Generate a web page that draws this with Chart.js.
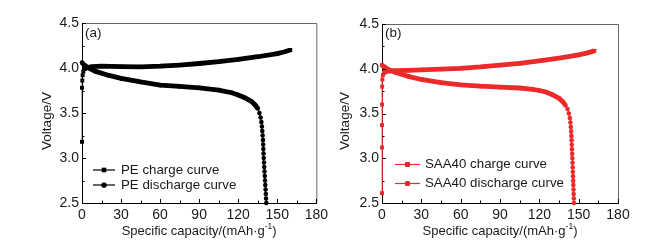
<!DOCTYPE html>
<html>
<head>
<meta charset="utf-8">
<script src="https://cdn.jsdelivr.net/npm/chart.js@4.4.0/dist/chart.umd.min.js"></script>
<style>
html, body { margin: 0; padding: 0; background: #fff; }
#wrap { position: relative; width: 664px; height: 252px; }
canvas { position: absolute; top: 0; }
</style>
</head>
<body>
<div id="wrap">
  <canvas id="chartA" width="332" height="252" style="left:0"></canvas>
  <canvas id="chartB" width="332" height="252" style="left:332px"></canvas>
</div>
<script>
// axis ticks
var xTicks = [0, 30, 60, 90, 120, 150, 180];
var yTicks = [2.5, 3.0, 3.5, 4.0, 4.5];
var xMinorTicks = [15, 45, 75, 105, 135, 165];
var yMinorTicks = [2.75, 3.25, 3.75, 4.25];

// (a) PE
var peChargeX = [0, 0, 0.2, 0.5, 1, 2, 4, 8, 15, 30, 45, 60, 75, 90, 105, 120, 135, 150, 155, 160];
var peChargeY = [3.18, 3.78, 3.86, 3.92, 3.96, 3.99, 4.005, 4.015, 4.02, 4.015, 4.013, 4.02, 4.033, 4.05, 4.07, 4.095, 4.125, 4.16, 4.178, 4.2];
var peDischargeX = [0, 2, 5, 10, 20, 30, 45, 60, 75, 90, 105, 115, 120, 125, 130, 133, 135,
  136.3, 137.2, 137.8, 138.2, 138.5, 138.75, 139.0, 139.15, 139.3, 139.45, 139.6, 139.8, 140.0,
  140.2, 140.4, 140.6, 140.8, 141.0, 141.2, 141.4, 141.6];
var peDischargeY = [4.06, 4.03, 4.0, 3.965, 3.92, 3.885, 3.845, 3.81, 3.795, 3.78, 3.755, 3.725, 3.7, 3.67, 3.63, 3.59, 3.55,
  3.5, 3.45, 3.4, 3.35, 3.3, 3.25, 3.2, 3.15, 3.1, 3.05, 3.0, 2.95, 2.9,
  2.85, 2.8, 2.75, 2.7, 2.65, 2.6, 2.55, 2.5];

// (b) SAA40
var saaChargeX = [0, 0, 0, 0.05, 0.1, 0.3, 0.7, 1.5, 3, 6, 10, 20, 30, 45, 60, 75, 90, 105, 120, 135, 150, 156, 162];
var saaChargeY = [2.61, 3.12, 3.37, 3.6, 3.8, 3.88, 3.93, 3.955, 3.97, 3.975, 3.978, 3.982, 3.988, 3.995, 4.005, 4.02, 4.04, 4.06, 4.088, 4.12, 4.155, 4.175, 4.2];
var saaDischargeX = [0, 2, 5, 10, 20, 30, 45, 60, 75, 90, 105, 115, 120, 125, 130, 135, 138, 140, 141.5, 142.5,
  143.3, 143.7, 144.0, 144.25, 144.45, 144.6, 144.75, 144.9, 145.05, 145.2,
  145.3, 145.45, 145.55, 145.7, 145.8, 145.95, 146.05, 146.2, 146.3, 146.45];
var saaDischargeY = [4.04, 4.02, 3.99, 3.96, 3.915, 3.88, 3.845, 3.82, 3.805, 3.795, 3.785, 3.77, 3.757, 3.74, 3.71, 3.67, 3.63, 3.59, 3.55, 3.5,
  3.45, 3.4, 3.35, 3.3, 3.25, 3.2, 3.15, 3.1, 3.05, 3.0,
  2.95, 2.9, 2.85, 2.8, 2.75, 2.7, 2.65, 2.6, 2.55, 2.5];

var FONT = "'Liberation Sans', Arial, sans-serif";
var TEXT = '#1a1a1a';

function pts(xs, ys) {
  return xs.map(function(x, i) { return { x: x, y: ys[i] }; });
}

// thick where markers overlap, thin where they are spread out
function segWidth(ctx) {
  var dx = Math.abs(ctx.p1.x - ctx.p0.x), dy = Math.abs(ctx.p1.y - ctx.p0.y);
  return (dy > 2 && dy > 1.5 * dx) ? 1.2 : 4.8;
}

function series(label, xs, ys, color, style) {
  return {
    label: label,
    data: pts(xs, ys),
    showLine: true,
    borderColor: color,
    backgroundColor: color,
    borderWidth: 4.8,
    pointStyle: style,
    pointRadius: style === 'rect' ? 2.8 : 2.3,
    pointBorderWidth: 0,
    clip: false,
    segment: { borderWidth: segWidth }
  };
}

var boxPlugin = {
  id: 'box',
  afterDraw: function(chart) {
    var o = chart.options.plugins.box;
    var a = chart.chartArea, ctx = chart.ctx;
    var xs = chart.scales.x, ys = chart.scales.y;
    ctx.save();
    // top and right frame
    ctx.strokeStyle = '#666';
    ctx.lineWidth = 1;
    ctx.beginPath();
    ctx.moveTo(a.left, a.top + 0.5);
    ctx.lineTo(a.right + 0.5, a.top + 0.5);
    ctx.lineTo(a.right + 0.5, a.bottom);
    ctx.stroke();
    // inward ticks
    ctx.strokeStyle = '#000';
    ctx.beginPath();
    xTicks.concat(xMinorTicks).forEach(function(v) {
      var px = Math.round(xs.getPixelForValue(v)) + 0.5;
      var len = xTicks.indexOf(v) >= 0 ? 4 : 2.5;
      ctx.moveTo(px, a.bottom); ctx.lineTo(px, a.bottom - len);
    });
    yTicks.concat(yMinorTicks).forEach(function(v) {
      var py = Math.round(ys.getPixelForValue(v)) + 0.5;
      var len = yTicks.indexOf(v) >= 0 ? 4 : 2.5;
      ctx.moveTo(a.left, py); ctx.lineTo(a.left + len, py);
    });
    ctx.stroke();

    ctx.fillStyle = TEXT;
    ctx.font = '13.5px ' + FONT;
    // panel label
    ctx.textAlign = 'left';
    ctx.textBaseline = 'middle';
    ctx.fillText(o.tag, a.left + 3, 33);

    // y title
    ctx.save();
    ctx.translate(o.yTitleX, 121);
    ctx.rotate(-Math.PI / 2);
    ctx.textAlign = 'center';
    ctx.fillText('Voltage/V', 0, 0);
    ctx.restore();

    // x title with superscript
    var main = 'Specific capacity/(mAh\u00b7g', sup = '-1', tail = ')';
    ctx.font = '13px ' + FONT;
    var w1 = ctx.measureText(main).width, w3 = ctx.measureText(tail).width;
    ctx.font = '8.5px ' + FONT;
    var w2 = ctx.measureText(sup).width;
    var x0 = (a.left + a.right) / 2 - (w1 + w2 + w3) / 2, ty = 231;
    ctx.font = '13px ' + FONT;
    ctx.fillText(main, x0, ty);
    ctx.font = '8.5px ' + FONT;
    ctx.fillText(sup, x0 + w1, ty - 4);
    ctx.font = '13px ' + FONT;
    ctx.fillText(tail, x0 + w1 + w2, ty);

    // legend
    chart.data.datasets.forEach(function(ds, i) {
      var y = o.legendY[i];
      ctx.strokeStyle = ds.borderColor;
      ctx.lineWidth = 1.2;
      ctx.beginPath();
      ctx.moveTo(o.legendX[0], y); ctx.lineTo(o.legendX[1], y);
      ctx.stroke();
      var cx = (o.legendX[0] + o.legendX[1]) / 2;
      Chart.helpers.drawPoint(ctx, { pointStyle: ds.pointStyle, radius: ds.pointRadius + 0.3, borderWidth: 0 }, cx, y);
      ctx.fillStyle = ds.borderColor;
      ctx.fill();
      ctx.fillStyle = TEXT;
      ctx.font = '13.3px ' + FONT;
      ctx.fillText(ds.label, o.legendX[2], y);
    });
    ctx.restore();
  }
};

function makeChart(id, datasets, cfg) {
  var ctx = document.getElementById(id).getContext('2d');
  return new Chart(ctx, {
    type: 'scatter',
    data: { datasets: datasets },
    options: {
      responsive: false,
      animation: false,
      events: [],
      layout: { padding: { left: 0, right: cfg.padRight, top: cfg.padTop, bottom: 0 } },
      plugins: {
        legend: { display: false },
        tooltip: { enabled: false },
        box: cfg
      },
      scales: {
        x: {
          type: 'linear', min: 0, max: 180,
          afterBuildTicks: function(s) { s.ticks = xTicks.map(function(v) { return { value: v }; }); },
          afterFit: function(s) { s.height = 49; },
          ticks: { font: { family: FONT, size: 14 }, color: TEXT, padding: 4, maxRotation: 0, autoSkip: false },
          grid: { display: false, drawTicks: false },
          border: { display: true, color: '#000', width: 1 }
        },
        y: {
          type: 'linear', min: 2.5, max: 4.5,
          afterBuildTicks: function(s) { s.ticks = yTicks.map(function(v) { return { value: v }; }); },
          afterFit: function(s) { s.width = cfg.yWidth; },
          ticks: {
            font: { family: FONT, size: 14 }, color: TEXT, padding: 3,
            callback: function(v) { return Number(v).toFixed(1); }
          },
          grid: { display: false, drawTicks: false },
          border: { display: true, color: '#000', width: 1 }
        }
      }
    },
    plugins: [boxPlugin]
  });
}

makeChart('chartA', [
  series('PE charge curve', peChargeX, peChargeY, '#000000', 'rect'),
  series('PE discharge curve', peDischargeX, peDischargeY, '#000000', 'circle')
], { tag: '(a)', yWidth: 82, padRight: 14, padTop: 23, yTitleX: 47,
     legendX: [93, 115, 121], legendY: [170, 185] });

makeChart('chartB', [
  series('SAA40 charge curve', saaChargeX, saaChargeY, '#ec2a2a', 'rect'),
  series('SAA40 discharge curve', saaDischargeX, saaDischargeY, '#ec2a2a', 'circle')
], { tag: '(b)', yWidth: 50, padRight: 46, padTop: 24, yTitleX: 13,
     legendX: [63, 88, 93], legendY: [164.5, 183.5] });
</script>
</body>
</html>
